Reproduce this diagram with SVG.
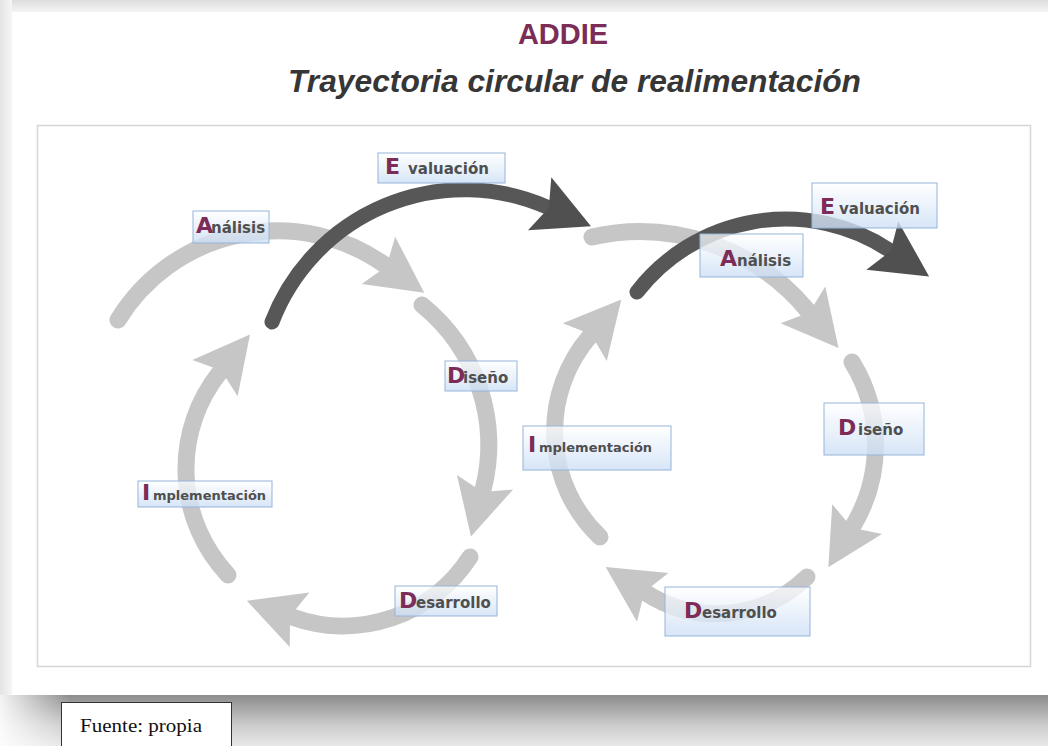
<svg xmlns="http://www.w3.org/2000/svg" width="1048" height="746" viewBox="0 0 1048 746">
  <defs>
    <style>
      .box { fill: url(#boxGrad); stroke: #95b4d8; stroke-width: 1; }
      .cap { font-family: "DejaVu Sans", sans-serif; font-weight: bold; font-size: 22px; fill: #7d2b57; }
      .rest { font-family: "DejaVu Sans", sans-serif; font-weight: bold; font-size: 15px; fill: #4f4f4f; }
      .small { font-size: 13px; }
      .arcG { fill: none; stroke: #c6c6c6; stroke-width: 17; stroke-linecap: round; marker-end: url(#ahG); }
      .arcD { fill: none; stroke: #575757; stroke-width: 15; stroke-linecap: round; marker-end: url(#ahD); }
    </style>
    <linearGradient id="boxGrad" x1="0" y1="0" x2="0" y2="1">
      <stop offset="0" stop-color="#ffffff" stop-opacity="0.75"/>
      <stop offset="1" stop-color="#cddff5" stop-opacity="0.8"/>
    </linearGradient>
    <linearGradient id="topShade" x1="0" y1="0" x2="0" y2="1">
      <stop offset="0" stop-color="#dedede"/>
      <stop offset="1" stop-color="#f4f4f4"/>
    </linearGradient>
    <linearGradient id="leftShade" x1="0" y1="0" x2="1" y2="0">
      <stop offset="0" stop-color="#e4e4e4"/>
      <stop offset="1" stop-color="#f6f6f6"/>
    </linearGradient>
    <linearGradient id="botShade" x1="0" y1="0" x2="0" y2="1">
      <stop offset="0" stop-color="#8c8c8c"/>
      <stop offset="0.3" stop-color="#acacac"/>
      <stop offset="0.6" stop-color="#cdcdcd"/>
      <stop offset="1" stop-color="#e8e8e8"/>
    </linearGradient>
    <linearGradient id="botFade" x1="0" y1="0" x2="1" y2="0">
      <stop offset="0" stop-color="#ffffff" stop-opacity="0.9"/>
      <stop offset="1" stop-color="#ffffff" stop-opacity="0"/>
    </linearGradient>
    <marker id="ahG" markerUnits="userSpaceOnUse" orient="auto" refX="8" refY="0" markerWidth="1" markerHeight="1" overflow="visible">
      <path d="M0,-29 L56,0 L0,29 L10,0 Z" fill="#c6c6c6"/>
    </marker>
    <marker id="ahD" markerUnits="userSpaceOnUse" orient="auto" refX="8" refY="0" markerWidth="1" markerHeight="1" overflow="visible">
      <path d="M0,-29 L56,0 L0,29 L10,0 Z" fill="#505050"/>
    </marker>
  </defs>

  <!-- page background and shadows -->
  <rect x="0" y="0" width="1048" height="746" fill="#ffffff"/>
  <rect x="0" y="0" width="1048" height="12" fill="url(#topShade)"/>
  <rect x="0" y="0" width="12" height="695" fill="url(#leftShade)"/>
  <rect x="0" y="695" width="1048" height="51" fill="url(#botShade)"/>
  <rect x="0" y="695" width="70" height="51" fill="url(#botFade)"/>

  <!-- titles -->
  <text x="563" y="44" text-anchor="middle" font-family="'Liberation Sans', Arial, sans-serif" font-weight="bold" font-size="29" fill="#7b2d57">ADDIE</text>
  <text x="288" y="92" textLength="573" lengthAdjust="spacingAndGlyphs" font-family="'Liberation Sans', Arial, sans-serif" font-weight="bold" font-style="italic" font-size="32" fill="#363636">Trayectoria circular de realimentación</text>

  <!-- frame -->
  <rect x="37.5" y="125.5" width="993" height="541" fill="#ffffff" stroke="#d6d6d6" stroke-width="1.5"/>

  <!-- connectors -->
  <g id="connectors">
    <path id="arc-analisis-1" class="arcG" d="M118,320 A187,187 0 0 1 385,265"/>
    <path id="arc-diseno-1" class="arcG" d="M422,305 A180,180 0 0 1 483,490"/>
    <path id="arc-desarrollo-1" class="arcG" d="M470,557 A151,151 0 0 1 292,617"/>
    <path id="arc-implementacion-1" class="arcG" d="M228,575 A155,155 0 0 1 220,372"/>
    <path id="arc-analisis-2" class="arcG" d="M592,237 A218,218 0 0 1 808,311"/>
    <path id="arc-diseno-2" class="arcG" d="M852,362 A158,158 0 0 1 853,526"/>
    <path id="arc-desarrollo-2" class="arcG" d="M807,577 A130,130 0 0 1 646,593"/>
    <path id="arc-implementacion-2" class="arcG" d="M600,537 A146,146 0 0 1 590,336"/>
    <path id="arc-evaluacion-1" class="arcD" d="M272,322 A206,206 0 0 1 547,207"/>
    <path id="arc-evaluacion-2" class="arcD" d="M637,292 A188,188 0 0 1 889,250"/>
  </g>

  <!-- left cycle labels -->
  <g id="analisis-1">
    <rect class="box" x="193" y="211" width="76" height="32"/>
    <text y="233"><tspan class="cap" x="196">A</tspan><tspan class="rest" x="211">nálisis</tspan></text>
  </g>
  <g id="evaluacion-1">
    <rect class="box" x="378" y="153" width="127" height="30"/>
    <text y="174"><tspan class="cap" x="385">E</tspan><tspan class="rest" x="408">valuación</tspan></text>
  </g>
  <g id="diseno-1">
    <rect class="box" x="445" y="361" width="72" height="30"/>
    <text y="383"><tspan class="cap" x="447">D</tspan><tspan class="rest" x="463">iseño</tspan></text>
  </g>
  <g id="implementacion-1">
    <rect class="box" x="138" y="481" width="134" height="26"/>
    <text y="500"><tspan class="cap" x="142">I</tspan><tspan class="rest small" x="153">mplementación</tspan></text>
  </g>
  <g id="desarrollo-1">
    <rect class="box" x="395" y="586" width="102" height="30"/>
    <text y="608"><tspan class="cap" x="399">D</tspan><tspan class="rest" x="416">esarrollo</tspan></text>
  </g>

  <!-- right cycle labels -->
  <g id="evaluacion-2">
    <rect class="box" x="812" y="183" width="125" height="45"/>
    <text y="214"><tspan class="cap" x="820">E</tspan><tspan class="rest" x="839">valuación</tspan></text>
  </g>
  <g id="analisis-2">
    <rect class="box" x="700" y="234" width="103" height="43"/>
    <text y="266"><tspan class="cap" x="720">A</tspan><tspan class="rest" x="737">nálisis</tspan></text>
  </g>
  <g id="implementacion-2">
    <rect class="box" x="523" y="426" width="148" height="44"/>
    <text y="452"><tspan class="cap" x="528">I</tspan><tspan class="rest small" x="539">mplementación</tspan></text>
  </g>
  <g id="diseno-2">
    <rect class="box" x="824" y="403" width="100" height="52"/>
    <text y="435"><tspan class="cap" x="838">D</tspan><tspan class="rest" x="858">iseño</tspan></text>
  </g>
  <g id="desarrollo-2">
    <rect class="box" x="665" y="587" width="145" height="49"/>
    <text y="618"><tspan class="cap" x="684">D</tspan><tspan class="rest" x="702">esarrollo</tspan></text>
  </g>

  <!-- source note -->
  <g id="fuente">
    <rect x="61.5" y="702.5" width="170" height="50" fill="#ffffff" stroke="#333333" stroke-width="1"/>
    <text x="80" y="732" textLength="122" lengthAdjust="spacingAndGlyphs" font-family="'Liberation Serif', 'Times New Roman', serif" font-size="19" fill="#111111">Fuente: propia</text>
  </g>
</svg>
